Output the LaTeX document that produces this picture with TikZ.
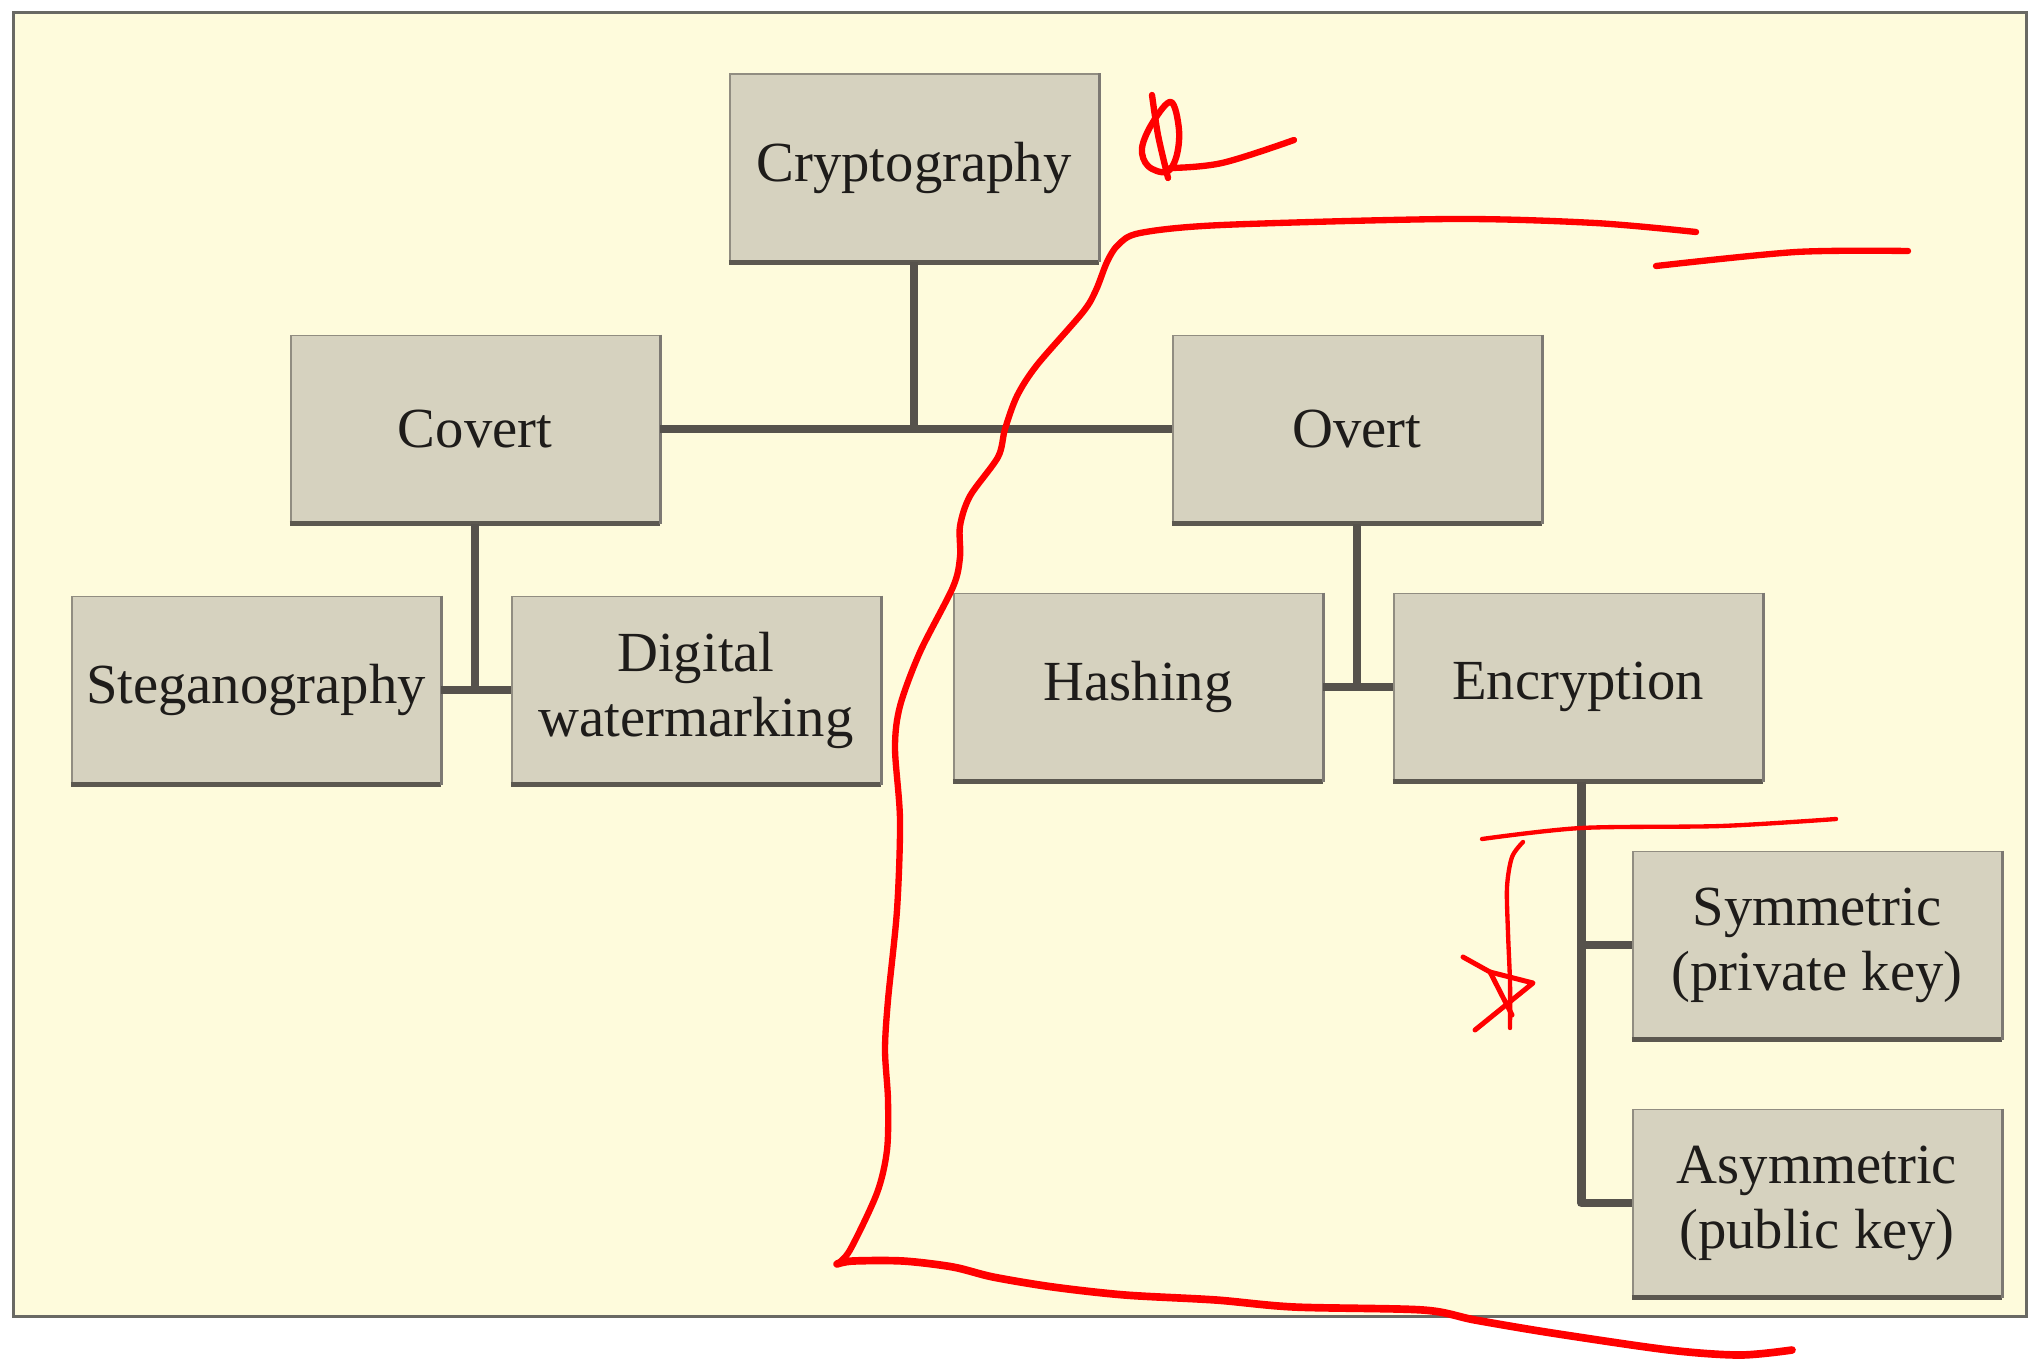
\documentclass[tikz,border=0pt]{standalone}
\usepackage{fontspec}
\setmainfont{Liberation Serif}
\definecolor{bg}{RGB}{254,251,220}
\definecolor{boxfill}{RGB}{214,210,191}
\definecolor{boxedge}{RGB}{145,141,129}
\definecolor{boxshade}{RGB}{92,88,80}
\definecolor{connc}{RGB}{86,82,76}
\definecolor{ink}{RGB}{30,28,26}
\definecolor{framec}{RGB}{105,105,100}
\definecolor{pen}{RGB}{255,0,0}
\begin{document}
\begin{tikzpicture}[x=0.3pt,y=-0.3pt,
  box/.style={fill=boxfill, draw=boxedge, line width=0.5pt,
    minimum width=110.6pt, minimum height=56.2pt, inner sep=0pt,
    align=center, text=ink, font=\fontsize{17}{19.5}\selectfont},
  connector/.style={draw=connc, line width=2.6pt, line join=round},
  boxbottom/.style={draw=boxshade, line width=1.4pt},
  boxright/.style={draw=boxshade!80, line width=0.8pt},
  redink/.style={draw=pen, line width=1.9pt, line cap=round, line join=round}]

\fill[white] (0,0) rectangle (2029,1359);
\useasboundingbox (0,0) rectangle (2029,1359);
\fill[bg] (13,13) rectangle (2026,1316);
\draw[framec, line width=0.9pt] (13,13) rectangle (2026,1316);

% boxes
\node[box] (crypto) at (914,168)  {Cryptography};
\node[box] (covert) at (475,429)  {Covert};
\node[box] (overt)  at (1357,429) {Overt};
\node[box] (steg)   at (256,690)  {Steganography};
\node[box] (dw)     at (696,690)  {Digital\\watermarking};
\node[box] (hash)   at (1138,687) {Hashing};
\node[box] (enc)    at (1578,687) {Encryption};
\node[box] (sym)    at (1817,945) {Symmetric\\(private key)};
\node[box] (asym)   at (1817,1203){Asymmetric\\(public key)};

\foreach \n in {crypto,covert,overt,steg,dw,hash,enc,sym,asym}{
  \draw[boxbottom] (\n.south west) -- (\n.south east);
  \draw[boxright] (\n.north east) -- (\n.south east);
}

% connectors
\draw[connector] (crypto.south) -- (crypto.south |- covert.east);
\draw[connector] (covert.east) -- (overt.west);
\draw[connector] (covert.south) -- (covert.south |- steg.east);
\draw[connector] (steg.east) -- (dw.west);
\draw[connector] (overt.south) -- (overt.south |- hash.east);
\draw[connector] (hash.east) -- (enc.west);
\coordinate (encx) at ([xshift=1pt]enc.south);
\draw[connector] (encx) -- (encx |- asym.west) -- (asym.west);
\draw[connector] (encx |- sym.west) -- (sym.west);

% red hand annotations
\draw[redink] plot[smooth, tension=0.5] coordinates {(1152,95) (1158,135) (1168,178)};
\draw[redink] plot[smooth cycle, tension=0.6] coordinates {(1171,102) (1179,130) (1176,158) (1166,172) (1148,166) (1142,148) (1153,122)};
\draw[redink] plot[smooth, tension=0.6] coordinates {(1170,168) (1222,163) (1294,140)};

\draw[redink] plot[smooth, tension=0.5] coordinates {
  (1696,232) (1595,223) (1452,219) (1222,225) (1140,233) (1118,245) (1107,262)
  (1096,290) (1083,312) (1037,365) (1017,396) (1005,429) (998,457) (970,496)
  (960,526) (960,557) (953,587) (920,652) (900,706) (895,748) (900,820)
  (897,910) (888,1000) (885,1050) (888,1100) (887,1150) (877,1193) (850,1250) (837,1264)};
\draw[redink, line width=2.3pt] plot[smooth, tension=0.5] coordinates {
  (837,1264) (853,1261) (903,1261) (953,1267) (993,1277) (1053,1287) (1125,1295)
  (1216,1300) (1294,1307) (1423,1310) (1475,1320) (1552,1333) (1669,1350)
  (1740,1355) (1792,1350)};
\draw[redink] plot[smooth, tension=0.5] coordinates {(1656,266) (1796,252) (1908,251)};

\draw[redink, line width=1.3pt] plot[smooth, tension=0.5] coordinates {(1482,839) (1581,828) (1721,826) (1836,819)};
\draw[redink, line width=1.3pt] plot[smooth, tension=0.5] coordinates {(1523,842) (1512,857) (1507,887) (1508,933) (1510,983) (1510,1028)};
\draw[redink, line width=1.5pt] (1463,957) -- (1490,972) -- (1512,1015);
\draw[redink, line width=1.5pt] (1490,972) -- (1533,983) -- (1475,1030);
\end{tikzpicture}
\end{document}
